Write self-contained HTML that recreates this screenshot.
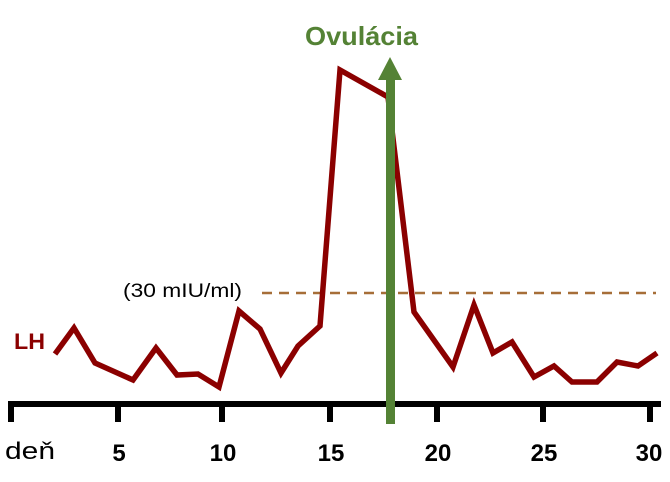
<!DOCTYPE html>
<html><head><style>body{margin:0;background:#fff}svg{display:block}</style></head><body>
<svg width="670" height="482" xmlns="http://www.w3.org/2000/svg" font-family="Liberation Sans, sans-serif">
<line x1="262" y1="293" x2="656" y2="293" stroke="#A66E38" stroke-width="2.5" stroke-dasharray="10,7"/>
<text x="123" y="297" font-size="19" fill="#000" textLength="119" lengthAdjust="spacingAndGlyphs">(30 mIU/ml)</text>
<text x="14" y="349" font-size="22" font-weight="bold" fill="#8B0000" textLength="31" lengthAdjust="spacingAndGlyphs">LH</text>
<polyline fill="none" stroke="#8B0000" stroke-width="5.5" stroke-linejoin="miter" points="55,354 74,328 95,363 133,380 156,348 177,375 198,374 219,387 239,311 260,329 281,373 298,346 320,326 340,70 388,97 414,312 453,367 474,305 493,353 512,342 534,377 554,366 572,382 597,382 617,362 638,366 657,353"/>
<rect x="8" y="401" width="653" height="6" fill="#000"/>
<g fill="#000">
<rect x="8" y="401" width="6" height="21"/><rect x="115" y="401" width="6" height="21"/><rect x="219" y="401" width="6" height="21"/><rect x="327" y="401" width="6" height="21"/><rect x="434" y="401" width="6" height="21"/><rect x="540" y="401" width="6" height="21"/><rect x="647" y="401" width="6" height="21"/>
</g>
<g font-size="24" font-weight="bold" text-anchor="middle" fill="#000">
<text x="119" y="461">5</text><text x="223" y="461">10</text><text x="331" y="461">15</text><text x="438" y="461">20</text><text x="544" y="461">25</text><text x="649" y="461">30</text>
</g>
<text x="5" y="459" font-size="24" fill="#000" textLength="50" lengthAdjust="spacingAndGlyphs">deň</text>
<rect x="386" y="78" width="9" height="346" fill="#548235"/>
<polygon points="378,80 402,80 390,57" fill="#548235"/>
<text x="305" y="45" font-size="26" font-weight="bold" fill="#548235" textLength="113" lengthAdjust="spacingAndGlyphs">Ovulácia</text>
</svg>
</body></html>
